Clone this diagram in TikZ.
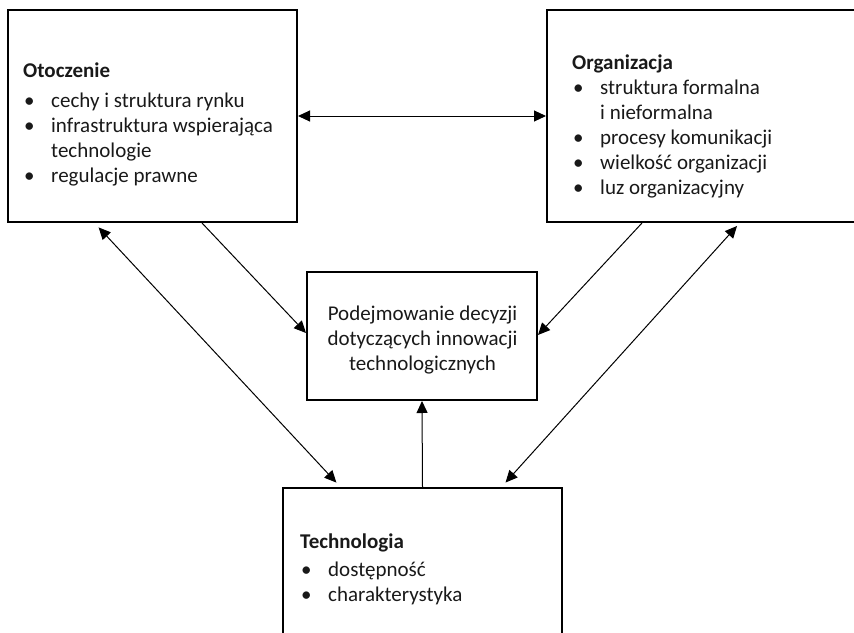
\documentclass[tikz,border=0pt]{standalone}
\usepackage{fontspec}
\setmainfont{Carlito}
\usetikzlibrary{arrows.meta}
\newcommand\bulletitem[1]{\makebox[28pt][l]{\hspace{1pt}•}#1}
\newcommand\carryline[1]{\hspace*{28pt}#1}
\begin{document}
\begin{tikzpicture}[x=1pt,y=-1pt,
  panel/.style={draw, line width=2pt, inner sep=0pt},
  txt/.style={font=\fontsize{21}{25}\selectfont, inner sep=0pt, align=left, anchor=base west, text=black!90},
  ctxt/.style={font=\fontsize{21}{25}\selectfont, inner sep=0pt, align=center, anchor=base, text=black!90},
  link/.style={line width=1pt, -{Triangle[length=12pt,width=11pt]}},
  both/.style={line width=1pt, {Triangle[length=12pt,width=11pt]}-{Triangle[length=12pt,width=11pt]}}]
\useasboundingbox (0,0) rectangle (854,632);
\clip (0,0) rectangle (854,632);

% boxes
\node[panel, minimum width=289pt, minimum height=212pt] (oto) at (152.5,116) {};
\node[panel, minimum width=323pt, minimum height=212pt] (org) at (708.5,116) {};
\node[panel, minimum width=230pt, minimum height=128pt] (dec) at (422,336) {};
\node[panel, minimum width=279pt, minimum height=162pt] (tech) at (422.5,569) {};

% texts (each node is placed by the baseline of its last line)
\node[txt] (otoText) at (23,182) {\textbf{Otoczenie}\\[5pt]
  \bulletitem{cechy i struktura rynku}\\
  \bulletitem{infrastruktura wspierająca}\\
  \carryline{technologie}\\
  \bulletitem{regulacje prawne}};
\node[txt] (orgText) at (572,194) {\textbf{Organizacja}\\
  \bulletitem{struktura formalna}\\
  \carryline{i nieformalna}\\
  \bulletitem{procesy komunikacji}\\
  \bulletitem{wielkość organizacji}\\
  \bulletitem{luz organizacyjny}};
\node[ctxt] (decText) at (422.5,370) {Podejmowanie decyzji\\
  dotyczących innowacji\\
  technologicznych};
\node[txt] (techText) at (300,601) {\textbf{Technologia}\\[3pt]
  \bulletitem{dostępność}\\
  \bulletitem{charakterystyka}};

% connectors
\draw[both] (oto.east) -- (org.west);
\draw[link] ([xshift=195pt]oto.south west) -- ([yshift=3pt]dec.west);
\draw[link] ([xshift=96pt]org.south west) -- ([yshift=1pt]dec.east);
\draw[link] (tech.north) -- (dec.south);
\draw[both, shorten <=6pt, shorten >=6pt] ([xshift=87.5pt]oto.south west) -- ([xshift=58.5pt]tech.north west);
\draw[both, shorten <=4pt, shorten >=6pt] ([xshift=193.7pt]org.south west) -- ([xshift=219.5pt]tech.north west);
\end{tikzpicture}
\end{document}
